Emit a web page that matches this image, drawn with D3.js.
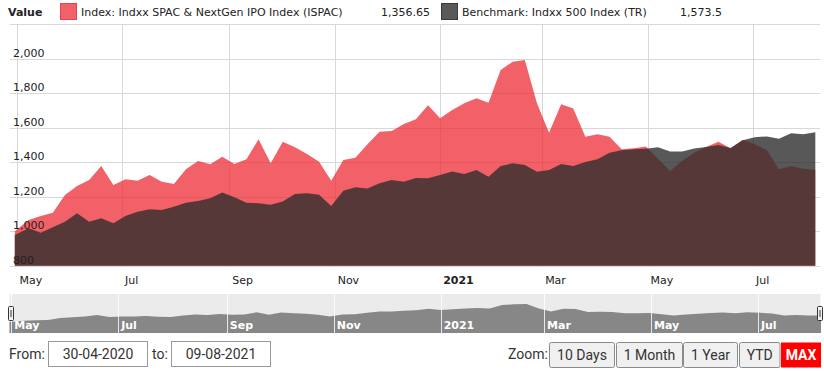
<!DOCTYPE html>
<html>
<head>
<meta charset="utf-8">
<script src="https://cdn.jsdelivr.net/npm/d3@7"></script>
<style>
  body { margin: 0; background: #fff; }
  svg { display: block; }
</style>
</head>
<body>
<svg id="chart" width="824" height="371"></svg>
<script>
// weekly closes
const dates = ["2020-04-30","2020-05-08","2020-05-15","2020-05-22","2020-05-29","2020-06-05","2020-06-12","2020-06-19","2020-06-26","2020-07-03","2020-07-10","2020-07-17","2020-07-24","2020-07-31","2020-08-07","2020-08-14","2020-08-21","2020-08-28","2020-09-04","2020-09-11","2020-09-18","2020-09-25","2020-10-02","2020-10-09","2020-10-16","2020-10-23","2020-10-30","2020-11-06","2020-11-13","2020-11-20","2020-11-27","2020-12-04","2020-12-11","2020-12-18","2020-12-25","2021-01-01","2021-01-08","2021-01-15","2021-01-22","2021-01-29","2021-02-05","2021-02-12","2021-02-19","2021-02-26","2021-03-05","2021-03-12","2021-03-19","2021-03-26","2021-04-02","2021-04-09","2021-04-16","2021-04-23","2021-04-30","2021-05-07","2021-05-14","2021-05-21","2021-05-28","2021-06-04","2021-06-11","2021-06-18","2021-06-25","2021-07-02","2021-07-09","2021-07-16","2021-07-23","2021-07-30","2021-08-06"];

const ispac = [1000,1065,1088,1107,1210,1262,1297,1378,1268,1301,1293,1326,1287,1274,1359,1407,1388,1432,1390,1417,1533,1394,1519,1487,1448,1403,1293,1413,1426,1504,1577,1581,1622,1649,1730,1655,1703,1742,1771,1745,1935,1983,1993,1742,1571,1736,1711,1548,1562,1548,1475,1481,1492,1420,1349,1409,1455,1490,1519,1481,1530,1505,1470,1360,1378,1362,1356.65];

const bench = [978,1017,991,1023,1055,1104,1055,1075,1046,1088,1113,1127,1123,1142,1165,1175,1191,1225,1197,1165,1162,1154,1173,1216,1220,1212,1146,1235,1255,1247,1278,1297,1287,1309,1307,1326,1347,1332,1355,1316,1378,1394,1384,1345,1355,1390,1378,1401,1417,1455,1470,1475,1478,1487,1462,1462,1480,1488,1500,1482,1527,1545,1550,1536,1568,1562,1573.5];

const yTicks = [800, 1000, 1200, 1400, 1600, 1800, 2000, 2200];
const monthTicks = ["2020-05-01","2020-07-01","2020-09-01","2020-11-01","2021-01-01","2021-03-01","2021-05-01","2021-07-01"];
const seriesNames = ["Index: Indxx SPAC & NextGen IPO Index (ISPAC)", "Benchmark: Indxx 500 Index (TR)"];
const rangeFrom = "30-04-2020", rangeTo = "09-08-2021";
const zoomButtons = ["10 Days", "1 Month", "1 Year", "YTD", "MAX"];

const parse = d3.timeParse("%Y-%m-%d");
const data = dates.map((d, i) => ({ date: parse(d), a: ispac[i], b: bench[i] }));
const ticks = monthTicks.map(parse);

const svg = d3.select("#chart");
const font = "'DejaVu Sans', Verdana, sans-serif";
const redFill = "rgb(238,44,52)", greyFill = "rgb(46,46,46)";

// main plot
const x = d3.scaleTime().domain([parse("2020-04-30"), parse("2021-08-09")]).range([14.8, 820.5]);
const y = d3.scaleLinear().domain([800, 2200]).range([265.7, 24.3]);

const grid = svg.append("g").attr("stroke", "#d8d8d8").attr("shape-rendering", "crispEdges");
grid.selectAll("line.h").data(yTicks).join("line")
  .attr("x1", 10).attr("x2", 820)
  .attr("y1", d => Math.round(y(d)) + 0.5).attr("y2", d => Math.round(y(d)) + 0.5);
grid.selectAll("line.v").data(ticks).join("line")
  .attr("x1", d => Math.round(x(d)) + 0.5).attr("x2", d => Math.round(x(d)) + 0.5)
  .attr("y1", y(2200)).attr("y2", y(800));

const area = key => d3.area().x(d => x(d.date)).y0(y(800)).y1(d => y(d[key]));

svg.append("path").datum(data).attr("d", area("a"))
  .attr("fill", redFill).attr("fill-opacity", 0.75);
svg.append("path").datum(data).attr("d", area("b"))
  .attr("fill", greyFill).attr("fill-opacity", 0.8);

// y labels sit inside the plot, just above their grid line
svg.append("g").selectAll("text").data(yTicks.slice(0, -1)).join("text")
  .attr("x", 13).attr("y", d => y(d) - 2)
  .attr("font-family", font).attr("font-size", 11).attr("fill", "#222")
  .text(d3.format(","));

const monthLabel = d => d.getMonth() === 0 ? d3.timeFormat("%Y")(d) : d3.timeFormat("%b")(d);

svg.append("g").selectAll("text").data(ticks).join("text")
  .attr("x", d => x(d) + 3).attr("y", 284)
  .attr("font-family", font).attr("font-size", 11).attr("fill", "#222")
  .attr("font-weight", d => d.getMonth() === 0 ? "bold" : null)
  .text(monthLabel);

// legend
const legend = svg.append("g").attr("font-family", font).attr("font-size", 11).attr("fill", "#222");
legend.append("text").attr("x", 8).attr("y", 16).attr("font-weight", "bold").text("Value");
const fmt = d3.format(",");
const legendItems = [
  { x: 60, name: seriesNames[0], value: fmt(ispac[ispac.length - 1]), vx: 381, fill: "#f26167", stroke: "#e0474e" },
  { x: 441, name: seriesNames[1], value: fmt(bench[bench.length - 1]), vx: 680, fill: "#595959", stroke: "#3a3a3a" }
];
legendItems.forEach(it => {
  legend.append("rect").attr("x", it.x + 0.5).attr("y", 3.5).attr("width", 16).attr("height", 16)
    .attr("fill", it.fill).attr("stroke", it.stroke);
  legend.append("text").attr("x", it.x + 21).attr("y", 16).text(it.name);
  legend.append("text").attr("x", it.vx).attr("y", 16).text(it.value);
});

// navigator
const nx = d3.scaleTime().domain([parse("2020-04-30"), parse("2021-08-06")]).range([9.5, 821]);
const ny = d3.scaleLinear().domain([381, 2552]).range([333, 294]);
const nav = svg.append("g");
nav.append("rect").attr("x", 9.5).attr("y", 294).attr("width", 811).attr("height", 39).attr("fill", "#ebebeb");
nav.append("path").datum(data)
  .attr("d", d3.area().x(d => nx(d.date)).y0(333).y1(d => ny(d.a)))
  .attr("fill", "#878787");
nav.selectAll("line").data(ticks).join("line")
  .attr("x1", d => Math.round(nx(d)) + 0.5).attr("x2", d => Math.round(nx(d)) + 0.5)
  .attr("y1", 294).attr("y2", 333).attr("stroke", "#fff").attr("stroke-opacity", 0.8);
nav.selectAll("text").data(ticks).join("text")
  .attr("x", d => nx(d) + 3).attr("y", 329)
  .attr("font-family", font).attr("font-size", 11).attr("fill", "#fff")
  .attr("font-weight", "bold")
  .text(monthLabel);
[8.5, 817.5].forEach(hx => {
  nav.append("rect").attr("x", hx).attr("y", 306.5).attr("width", 5).attr("height", 14)
    .attr("rx", 1).attr("fill", "#f2f2f2").attr("stroke", "#333");
  nav.append("line").attr("x1", hx + 2.5).attr("x2", hx + 2.5).attr("y1", 310).attr("y2", 317)
    .attr("stroke", "#333");
});

// range inputs
const ui = svg.append("g").attr("font-family", "Roboto, sans-serif").attr("font-size", 14).attr("fill", "#333");
ui.append("text").attr("x", 9).attr("y", 359).text("From:");
ui.append("text").attr("x", 152).attr("y", 359).text("to:");
[{ x: 48.5, w: 99, t: rangeFrom }, { x: 171.5, w: 99, t: rangeTo }].forEach(b => {
  ui.append("rect").attr("x", b.x).attr("y", 341.5).attr("width", b.w).attr("height", 25)
    .attr("fill", "#fff").attr("stroke", "#999");
  ui.append("text").attr("x", b.x + b.w / 2).attr("y", 359).attr("text-anchor", "middle").text(b.t);
});

// zoom buttons
ui.append("text").attr("x", 508).attr("y", 359).text("Zoom:");
const btnX = [549.5, 616.5, 683.5, 739.5, 781];
const btnW = [65, 66, 54, 40.5, 40];
zoomButtons.forEach((label, i) => {
  const active = label === "MAX";
  ui.append("rect").attr("x", btnX[i]).attr("y", 342.5).attr("width", btnW[i]).attr("height", 25)
    .attr("rx", active ? 0 : 2)
    .attr("fill", active ? "#ff0000" : "#f0f0f0").attr("stroke", active ? "none" : "#8a8a8a");
  ui.append("text").attr("x", btnX[i] + btnW[i] / 2).attr("y", 360).attr("text-anchor", "middle")
    .attr("fill", active ? "#fff" : "#333").attr("font-weight", active ? "bold" : null)
    .text(label);
});
</script>
</body>
</html>
